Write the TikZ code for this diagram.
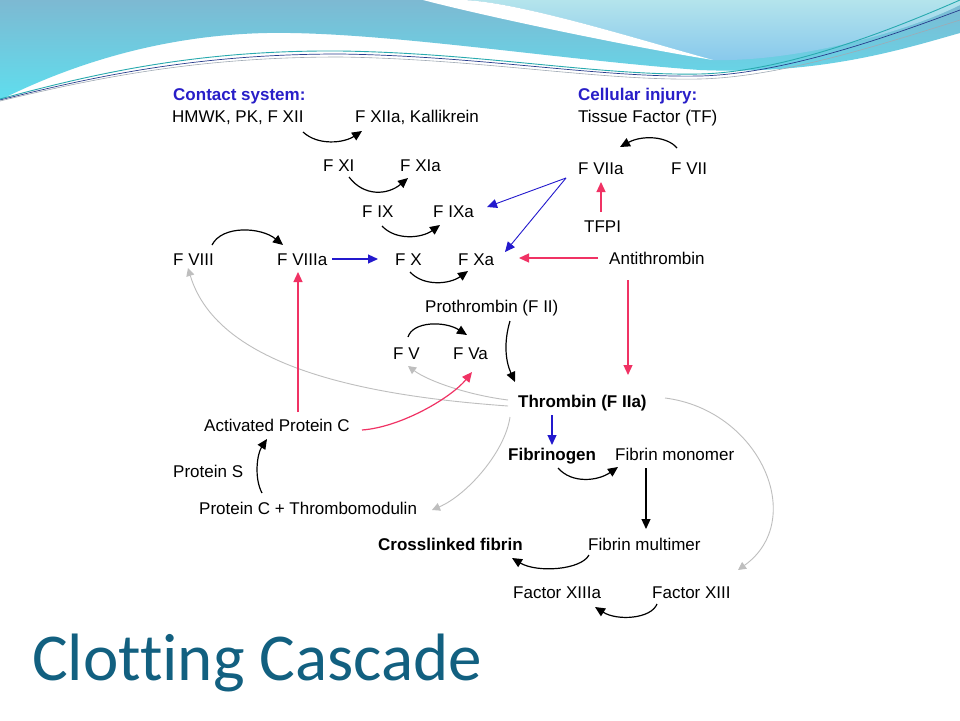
\documentclass[tikz,border=0pt]{standalone}
\usepackage{fontspec}
\setmainfont{Liberation Sans}
\newfontfamily\titlefont[Ligatures=NoCommon]{Carlito}
\usetikzlibrary{arrows.meta}
\definecolor{hdblue}{RGB}{40,30,200}
\definecolor{arblue}{RGB}{35,25,205}
\definecolor{arred}{RGB}{240,50,100}
\definecolor{argray}{RGB}{190,190,190}
\definecolor{titlecol}{RGB}{18,96,128}
\definecolor{hdtop}{RGB}{125,185,210}
\definecolor{hdbot}{RGB}{95,222,238}
\definecolor{lttop}{RGB}{180,228,236}
\definecolor{ltbot}{RGB}{135,200,236}
\definecolor{lnteal}{RGB}{40,170,175}
\definecolor{lnnavy}{RGB}{40,60,140}
\definecolor{lngray}{RGB}{160,170,180}
\begin{document}
\begin{tikzpicture}[x=1pt,y=-1pt,
  lbl/.style={anchor=base west,inner sep=0pt,font=\fontsize{17}{20}\selectfont},
  bld/.style={lbl,font=\fontsize{17}{20}\selectfont\bfseries},
  head/.style={bld,text=hdblue},
  blk/.style={-{Triangle[length=10pt,width=9pt]},line width=1.2pt,black},
  blu/.style={-{Triangle[length=10pt,width=9pt]},line width=1.2pt,arblue},
  blut/.style={-{Triangle[length=10pt,width=9pt]},line width=0.9pt,arblue},
  rd/.style={-{Triangle[length=10pt,width=9pt]},line width=1.2pt,arred},
  gry/.style={-{Triangle[length=8pt,width=8pt]},line width=0.9pt,argray},
]
\useasboundingbox (0,0) rectangle (960,720);
\fill[white] (0,0) rectangle (960,720);
% ---- header waves
\shade[top color=hdtop,bottom color=hdbot] (0,0) -- (960,0) -- (960,33)
  .. controls (900,50) and (820,75) .. (700,70)
  .. controls (560,60) and (380,31) .. (267,33)
  .. controls (170,35) and (80,60) .. (0,100) -- cycle;
\shade[top color=lttop,bottom color=ltbot] (463,0)
  .. controls (520,2) and (640,40) .. (713,60)
  .. controls (790,62) and (900,35) .. (960,5) -- (960,0) -- cycle;
\fill[white] (423,0) .. controls (480,15) and (620,45) .. (713,60)
  .. controls (640,40) and (520,2) .. (463,0) -- cycle;
\draw[lnteal,line width=0.9pt] (0,99) .. controls (100,72) and (200,50) .. (340,51)
  .. controls (480,53) and (600,76) .. (700,74) .. controls (780,72) and (880,35) .. (960,0);
\draw[lnnavy,line width=0.7pt] (0,100) .. controls (100,75) and (200,54) .. (340,54)
  .. controls (480,56) and (600,78) .. (700,76) .. controls (780,74) and (880,40) .. (960,10);
\draw[lngray,line width=0.6pt] (0,101) .. controls (100,77) and (200,57) .. (340,57)
  .. controls (480,59) and (600,81) .. (700,79) .. controls (780,77) and (880,45) .. (960,20);
% ---- nodes
\node[head] (contact) at (173,100) {Contact system:};
\node[lbl] (hmwk) at (172,122) {HMWK, PK, F XII};
\node[lbl] (fxiia) at (355,122) {F XIIa, Kallikrein};
\node[head] (cellular) at (578,100) {Cellular injury:};
\node[lbl] (tf) at (578,122) {Tissue Factor (TF)};
\node[lbl] (fxi) at (323,171) {F XI};
\node[lbl] (fxia) at (400,171) {F XIa};
\node[lbl] (fviia) at (578,174) {F VIIa};
\node[lbl] (fvii) at (671,174) {F VII};
\node[lbl] (fix) at (362,217) {F IX};
\node[lbl] (fixa) at (433,217) {F IXa};
\node[lbl] (tfpi) at (584,232) {TFPI};
\node[lbl] (fviii) at (173,265) {F VIII};
\node[lbl] (fviiia) at (277,265) {F VIIIa};
\node[lbl] (fx) at (395,265) {F X};
\node[lbl] (fxa) at (458,265) {F Xa};
\node[lbl] (at) at (609,264) {Antithrombin};
\node[lbl] (prothr) at (425,312) {Prothrombin (F II)};
\node[lbl] (fv) at (393,359) {F V};
\node[lbl] (fva) at (453,359) {F Va};
\node[bld] (thr) at (518,407) {Thrombin (F IIa)};
\node[lbl] (apc) at (204,431) {Activated Protein C};
\node[bld] (fibgen) at (508,460) {Fibrinogen};
\node[lbl] (fibmono) at (615,460) {Fibrin monomer};
\node[lbl] (ps) at (173,477) {Protein S};
\node[lbl] (pctm) at (199,514) {Protein C + Thrombomodulin};
\node[bld] (xfib) at (378,550) {Crosslinked fibrin};
\node[lbl] (fibmulti) at (588,550) {Fibrin multimer};
\node[lbl] (fxiiia) at (513,598) {Factor XIIIa};
\node[lbl] (fxiii) at (652,598) {Factor XIII};
\node[anchor=base west,inner sep=0pt,text=titlecol,font=\titlefont\fontsize{67}{70}\selectfont] (title) at (32,680) {Clotting Cascade};
% ---- connectors
\draw[blk] ([shift={(131,10)}]hmwk.base west) .. controls +(15,14) and +(-18,12) .. ([shift={(7,9)}]fxiia.base west);
\draw[blk] ([shift={(26,6)}]fxi.base west) .. controls +(15,20) and +(-20,17) .. ([shift={(8,7)}]fxia.base west);
\draw[blk] ([shift={(20,9)}]fix.base west) .. controls +(14,15) and +(-18,13) .. ([shift={(7,8)}]fixa.base west);
\draw[blk] ([shift={(39,-20)}]fviii.base west) .. controls +(10,-20) and +(-22,-18) .. ([shift={(6,-20)}]fviiia.base west);
\draw[blu] ([shift={(55,-6)}]fviiia.base west) -- ([shift={(-17,-6)}]fx.base west);
\draw[blk] ([shift={(15,7)}]fx.base west) .. controls +(14,15) and +(-18,13) .. ([shift={(10,6)}]fxa.base west);
\draw[blk] ([shift={(6,-26)}]fvii.base west) .. controls +(-10,-12) and +(22,-12) .. ([shift={(42,-27)}]fviia.base west);
\draw[rd] ([shift={(17,-20)}]tfpi.base west) -- ([shift={(23,8)}]fviia.base west);
\draw[blut] ([shift={(-12,4)}]fviia.base west) -- ([shift={(54,-10)}]fixa.base west);
\draw[blut] ([shift={(-12,4)}]fviia.base west) -- ([shift={(47,-13)}]fxa.base west);
\draw[rd] ([shift={(-11,-6)}]at.base west) -- ([shift={(61,-7)}]fxa.base west);
\draw[rd] ([shift={(19,16)}]at.base west) -- ([shift={(110,-32)}]thr.base west);
\draw[blk] ([shift={(85,9)}]prothr.base west) .. controls +(-6,20) and +(-10,-22) .. ([shift={(-3,-25)}]thr.base west);
\draw[blk] ([shift={(15,-22)}]fv.base west) .. controls +(5,-16) and +(-22,-14) .. ([shift={(14,-24)}]fva.base west);
\draw[gry] ([shift={(-10,-7)}]thr.base west) .. controls +(-40,-5) and +(20,15) .. ([shift={(15,7)}]fv.base west);
\draw[gry] ([shift={(-10,-1)}]thr.base west) .. controls +(-140,-10) and +(30,100) .. ([shift={(15,3)}]fviii.base west);
\draw[gry] ([shift={(147,-9)}]thr.base west) .. controls +(95,12) and +(70,-50) .. ([shift={(86,-28)}]fxiii.base west);
\draw[gry] ([shift={(-8,10)}]thr.base west) .. controls +(-5,35) and +(35,-15) .. ([shift={(233,-4)}]pctm.base west);
\draw[blu] ([shift={(34,8)}]thr.base west) -- ([shift={(44,-15)}]fibgen.base west);
\draw[blk] ([shift={(50,8)}]fibgen.base west) .. controls +(14,16) and +(-20,14) .. ([shift={(3,7)}]fibmono.base west);
\draw[blk] ([shift={(31,8)}]fibmono.base west) -- ([shift={(58,-21)}]fibmulti.base west);
\draw[blk] ([shift={(1,5)}]fibmulti.base west) .. controls +(-8,15) and +(25,15) .. ([shift={(134,8)}]xfib.base west);
\draw[blk] ([shift={(5,6)}]fxiii.base west) .. controls +(-6,15) and +(22,14) .. ([shift={(82,9)}]fxiiia.base west);
\draw[rd] ([shift={(94,-19)}]apc.base west) -- ([shift={(21,7)}]fviiia.base west);
\draw[rd] ([shift={(158,-1)}]apc.base west) .. controls +(40,-3) and +(-20,25) .. ([shift={(19,13)}]fva.base west);
\draw[blk] ([shift={(63,-21)}]pctm.base west) .. controls +(-8,-15) and +(-10,15) .. ([shift={(63,8)}]apc.base west);
\end{tikzpicture}
\end{document}
